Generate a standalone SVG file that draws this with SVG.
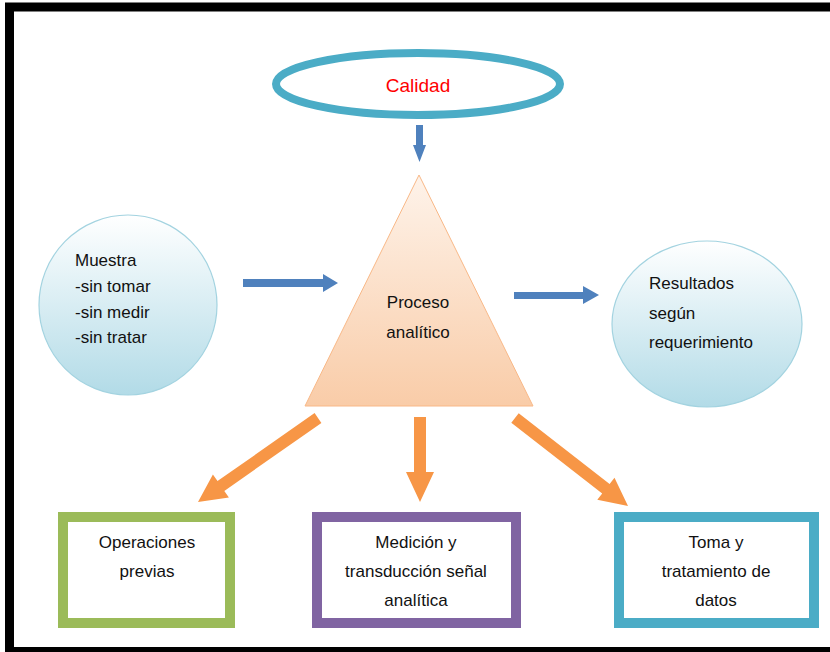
<svg xmlns="http://www.w3.org/2000/svg" width="830" height="652" viewBox="0 0 830 652">
<defs>
<linearGradient id="tri" x1="0" y1="0" x2="0" y2="1">
<stop offset="0" stop-color="#FEF3EA"/>
<stop offset="1" stop-color="#F9CCA8"/>
</linearGradient>
<linearGradient id="circ" x1="0" y1="0" x2="0" y2="1">
<stop offset="0" stop-color="#FFFFFF"/>
<stop offset="1" stop-color="#B2DBE7"/>
</linearGradient>
<style>
text{font-family:"Liberation Sans",Arial,sans-serif;font-size:17px;fill:#111}
.c{text-anchor:middle}
.box{fill:#fff;stroke-width:10}
.blue{fill:#4F81BD}
.orange{fill:#F79646}
.circle{fill:url(#circ);stroke:#A3D3E0;stroke-width:1.2}
</style>
</defs>
<rect x="0" y="0" width="830" height="652" fill="#fff"/>
<rect x="9.5" y="7" width="1000" height="644.5" fill="none" stroke="#000" stroke-width="9"/>

<g id="calidad">
<ellipse cx="418" cy="84" rx="142" ry="31" fill="#fff" stroke="#4BACC6" stroke-width="8"/>
<text class="c" x="418" y="92" style="fill:#FF0000;font-size:19px">Calidad</text>
</g>

<g id="proceso">
<polygon points="419,175 305,406 533,406" fill="url(#tri)" stroke="#F8B887" stroke-width="1"/>
<text class="c" x="418" y="308">Proceso</text>
<text class="c" x="418" y="338">analítico</text>
</g>

<g id="muestra">
<ellipse cx="128" cy="305" rx="89" ry="90" class="circle"/>
<text x="75" y="266">Muestra</text>
<text x="75" y="292">-sin tomar</text>
<text x="75" y="318">-sin medir</text>
<text x="75" y="343">-sin tratar</text>
</g>

<g id="resultados">
<ellipse cx="707" cy="324" rx="95" ry="83" class="circle"/>
<text x="649" y="289">Resultados</text>
<text x="649" y="319">según</text>
<text x="649" y="348">requerimiento</text>
</g>

<g id="operaciones">
<rect x="63" y="517" width="167" height="106" class="box" stroke="#9BBB59"/>
<text class="c" x="147" y="548">Operaciones</text>
<text class="c" x="147" y="577">previas</text>
</g>

<g id="medicion">
<rect x="317" y="517" width="199" height="106" class="box" stroke="#8064A2"/>
<text class="c" x="416" y="548">Medición y</text>
<text class="c" x="416" y="577">transducción señal</text>
<text class="c" x="416" y="606">analítica</text>
</g>

<g id="toma">
<rect x="619" y="517" width="195" height="106" class="box" stroke="#4BACC6"/>
<text class="c" x="716" y="548">Toma y</text>
<text class="c" x="716" y="577">tratamiento de</text>
<text class="c" x="716" y="606">datos</text>
</g>

<g id="connectors">
<polygon class="blue" points="416,125 423,125 423,145 426,145 419.5,162 413,145 416,145"/>
<polygon class="blue" points="243,279 323,279 323,274 338,283 323,292 323,287 243,287"/>
<polygon class="blue" points="514,292 583,292 583,286 599,295 583,304 583,299 514,299"/>
<polygon class="orange" points="321.4,422.9 314.6,413.1 217.5,481.1 212.9,474.5 198,502 228.9,497.5 224.3,490.9"/>
<polygon class="orange" points="414,417 426,417 426,472 434,472 420,502 406,472 414,472"/>
<polygon class="orange" points="511.3,422.7 518.7,413.3 609.6,484.1 614.5,477.8 628,506 597.3,499.8 602.2,493.5"/>
</g>
</svg>
